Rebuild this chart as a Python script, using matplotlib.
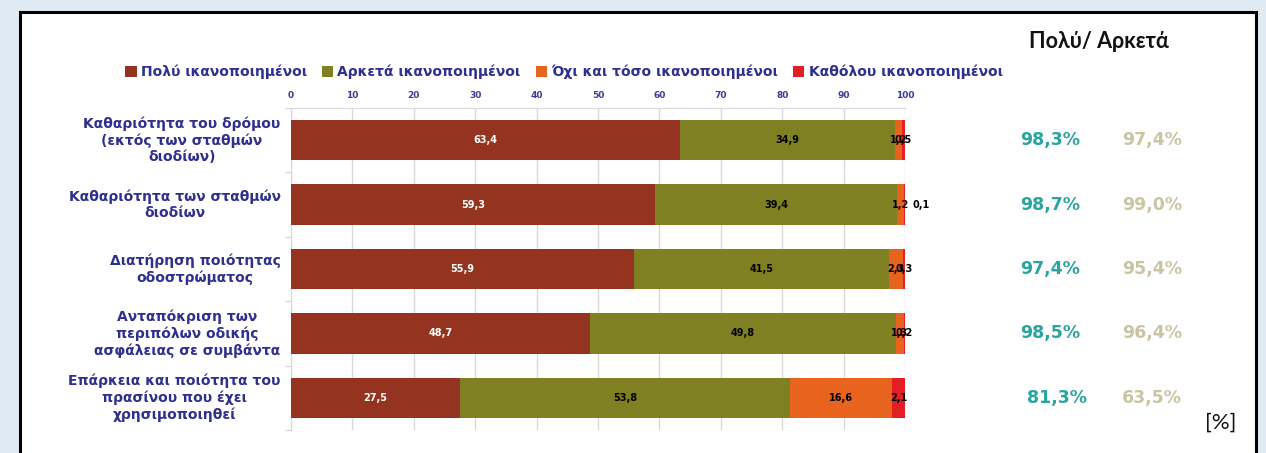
import numpy as np
import matplotlib.pyplot as plt
from matplotlib.patches import Rectangle

categories = [
    "Καθαριότητα του δρόμου\n(εκτός των σταθμών\nδιοδίων)",
    "Καθαριότητα των σταθμών\nδιοδίων",
    "Διατήρηση ποιότητας\nοδοστρώματος",
    "Ανταπόκριση των\nπεριπόλων οδικής\nασφάλειας σε συμβάντα",
    "Επάρκεια και ποιότητα του\nπρασίνου που έχει\nχρησιμοποιηθεί",
]
series_names = [
    "Πολύ ικανοποιημένοι",
    "Αρκετά ικανοποιημένοι",
    "Όχι και τόσο ικανοποιημένοι",
    "Καθόλου ικανοποιημένοι",
]
very = [63.4, 59.3, 55.9, 48.7, 27.5]
quite = [34.9, 39.4, 41.5, 49.8, 53.8]
not_so = [1.2, 1.2, 2.3, 1.3, 16.6]
not_at_all = [0.5, 0.1, 0.3, 0.2, 2.1]
total_now = ["98,3%", "98,7%", "97,4%", "98,5%", "81,3%"]
total_prev = ["97,4%", "99,0%", "95,4%", "96,4%", "63,5%"]

colors = ["#943320", "#7f8022", "#e8641e", "#e31e24"]
label_colors = ["white", "black", "black", "black"]
navy = "#2e2f8f"

W, H = 1266, 453
fig = plt.figure(figsize=(W / 100, H / 100), dpi=100)
fig.patch.set_facecolor("#dfeaf2")
# white panel with black frame
fig.patches.append(Rectangle((20 / W, -0.05), 1236 / W, 1 - 12 / H + 0.05,
                             transform=fig.transFigure, facecolor="white",
                             edgecolor="black", linewidth=2.2, zorder=-1))

ax = fig.add_axes([291 / W, 1 - 430 / H, 614 / W, 322 / H])
ax.set_facecolor("none")

y = np.arange(len(categories))
left = np.zeros(len(categories))
handles = []
for vals, col, lc in zip([very, quite, not_so, not_at_all], colors, label_colors):
    vals = np.array(vals)
    b = ax.barh(y, vals, left=left, height=0.63, color=col, zorder=3)
    handles.append(b)
    for yi, v, l in zip(y, vals, left):
        txt = f"{v:.1f}".replace(".", ",")
        if v <= 0.1:
            # tiny segment: label sits outside the bar
            ax.text(l + v + 1.2, yi, txt, ha="left", va="center", fontsize=7,
                    fontweight="bold", color=lc, zorder=4)
        else:
            ax.text(l + v / 2, yi, txt, ha="center", va="center", fontsize=7,
                    fontweight="bold", color=lc, zorder=4)
    left = left + vals

ax.set_xlim(0, 100)
ax.set_ylim(len(categories) - 0.5, -0.5)
ax.set_xticks(np.arange(0, 101, 10))
ax.xaxis.tick_top()
ax.tick_params(axis="x", length=0, labelsize=6.5, labelcolor="#3b3c9a", pad=6)
for t in ax.get_xticklabels():
    t.set_fontweight("bold")
ax.grid(axis="x", color="#d9d9d9", linewidth=1, zorder=0)
ax.set_yticks(np.arange(len(categories) + 1) - 0.5)
ax.set_yticklabels([])
ax.tick_params(axis="y", length=4, color="#d0d0d0")
for s in ["right", "bottom"]:
    ax.spines[s].set_visible(False)
ax.spines["top"].set_color("#d9d9d9")
ax.spines["left"].set_color("#d9d9d9")

for yi, cat in zip(y, categories):
    ax.text(-0.017, yi, cat, transform=ax.get_yaxis_transform(), ha="right",
            va="center", multialignment="center", fontsize=10,
            fontweight="bold", color=navy, linespacing=1.22)

fig.legend(handles, series_names, loc="center", bbox_to_anchor=(564 / W, 1 - 72 / H),
           ncol=4, frameon=False, handlelength=0.8, handleheight=0.8,
           handletextpad=0.3, columnspacing=1.1,
           prop={"size": 10, "weight": "bold"}, labelcolor=navy)

fig.text(1099 / W, 1 - 42 / H, "Πολύ/ Αρκετά", ha="center", va="center",
         fontsize=15.5, fontweight="bold", family="Lato", color="#111111")
for i, (yi, a, b) in enumerate(zip(y, total_now, total_prev)):
    yy = ax.transData.transform((0, yi))[1] / fig.bbox.height
    xa = 1057 if i == len(y) - 1 else 1050
    fig.text(xa / W, yy, a, ha="center", va="center", fontsize=12.5,
             fontweight="bold", color="#2aa49f")
    fig.text(1152 / W, yy, b, ha="center", va="center", fontsize=12.5,
             fontweight="bold", color="#c9c4a2")
fig.text(1221 / W, 1 - 423 / H, "[%]", ha="center", va="center",
         fontsize=16, family="Lato", color="#111111")

fig.savefig("out.png", dpi=100)
